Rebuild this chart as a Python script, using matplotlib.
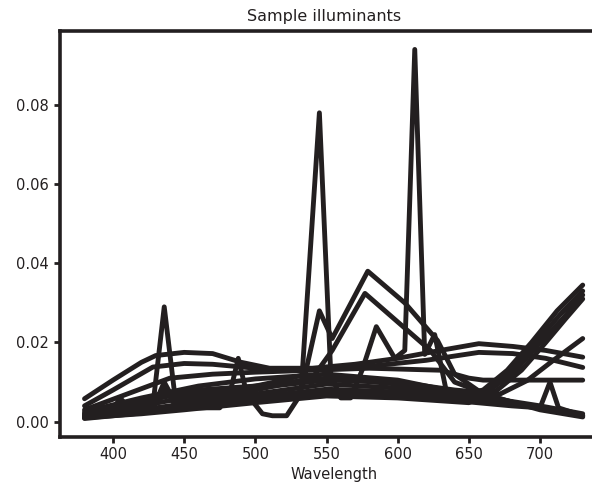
import matplotlib
matplotlib.use('Agg')
import matplotlib.pyplot as plt

plt.rcParams['font.family'] = ['DejaVu Sans']

# spectra (wavelength in nm, relative power)
tri_wl = [380, 395, 405, 412, 428, 436, 444, 450, 475, 482, 488, 494, 505, 512, 522, 532,
          545, 553, 560, 567, 575, 585, 598, 605, 612, 619, 626, 634, 650, 680, 700, 707, 713, 730]
tri_val = [0.0015, 0.002, 0.005, 0.002, 0.004, 0.029, 0.005, 0.0035, 0.0035, 0.007, 0.016, 0.007,
           0.002, 0.0015, 0.0015, 0.007, 0.078, 0.012, 0.006, 0.006, 0.013, 0.024, 0.016, 0.018,
           0.094, 0.017, 0.022, 0.008, 0.005, 0.004, 0.0035, 0.010, 0.0035, 0.0015]

hal1_wl = [380, 400, 405, 410, 430, 436, 442, 480, 500, 520, 535, 545, 554, 579, 605, 628, 640, 660, 690, 730]
hal1_val = [0.002, 0.003, 0.006, 0.004, 0.005, 0.010, 0.006, 0.008, 0.009, 0.0105, 0.012, 0.028,
            0.021, 0.038, 0.030, 0.0205, 0.012, 0.007, 0.004, 0.0015]

hal2_wl = [380, 400, 405, 410, 430, 436, 442, 480, 500, 520, 540, 554, 577, 623, 640, 670, 700, 730]
hal2_val = [0.0015, 0.0025, 0.005, 0.003, 0.0045, 0.009, 0.005, 0.007, 0.008, 0.0095, 0.011, 0.018,
            0.0324, 0.018, 0.010, 0.006, 0.003, 0.0012]

day1_wl = [380, 400, 420, 430, 450, 470, 490, 510, 540, 570, 600, 630, 657, 681, 704, 730]
day1_val = [0.0058, 0.0105, 0.015, 0.0167, 0.0175, 0.0172, 0.015, 0.0135, 0.0135, 0.0145, 0.016,
            0.018, 0.0197, 0.019, 0.018, 0.0163]

day2_wl = [380, 400, 428, 450, 470, 500, 540, 580, 620, 657, 681, 704, 730]
day2_val = [0.004, 0.008, 0.0138, 0.0147, 0.0145, 0.0135, 0.0133, 0.014, 0.0155, 0.0175, 0.0172, 0.016, 0.0137]

day3_wl = [380, 410, 440, 470, 500, 540, 580, 630, 650, 660, 730]
day3_val = [0.003, 0.007, 0.011, 0.012, 0.0125, 0.013, 0.0135, 0.013, 0.011, 0.0105, 0.0105]

mid_wl = [380, 420, 450, 500, 550, 600, 640, 672, 691, 709, 730]
mid_val = [0.0015, 0.004, 0.006, 0.0085, 0.0105, 0.010, 0.008, 0.007, 0.0104, 0.0154, 0.021]

inc1_wl = [380, 420, 450, 500, 550, 600, 640, 660, 677, 694, 712, 730]
inc1_val = [0.001, 0.003, 0.0045, 0.007, 0.0095, 0.0085, 0.0065, 0.008, 0.013, 0.020, 0.028, 0.0345]
inc2_wl = [380, 420, 450, 500, 550, 600, 640, 660, 680, 697, 714, 730]
inc2_val = [0.0012, 0.0028, 0.004, 0.0062, 0.0082, 0.0075, 0.006, 0.0075, 0.013, 0.020, 0.027, 0.033]
inc3_wl = [380, 420, 450, 500, 550, 600, 645, 665, 683, 700, 716, 730]
inc3_val = [0.0008, 0.0022, 0.0035, 0.0052, 0.0072, 0.0066, 0.0055, 0.008, 0.013, 0.020, 0.026, 0.032]
inc4_wl = [380, 420, 450, 500, 550, 600, 650, 670, 687, 704, 718, 730]
inc4_val = [0.001, 0.002, 0.003, 0.0048, 0.0065, 0.006, 0.0048, 0.008, 0.013, 0.020, 0.026, 0.031]

low1_wl = [380, 420, 460, 500, 550, 600, 650, 700, 730]
low1_val = [0.002, 0.005, 0.008, 0.009, 0.011, 0.0095, 0.006, 0.0035, 0.0015]
low2_wl = [380, 420, 460, 500, 550, 600, 650, 700, 730]
low2_val = [0.0025, 0.006, 0.009, 0.0108, 0.012, 0.0105, 0.0068, 0.004, 0.002]

series = [
    (tri_wl, tri_val), (hal1_wl, hal1_val), (hal2_wl, hal2_val),
    (day1_wl, day1_val), (day2_wl, day2_val), (day3_wl, day3_val),
    (mid_wl, mid_val),
    (inc1_wl, inc1_val), (inc2_wl, inc2_val), (inc3_wl, inc3_val), (inc4_wl, inc4_val),
    (low1_wl, low1_val), (low2_wl, low2_val),
]

ink = '#231f20'

fig = plt.figure(figsize=(5.92, 4.87), dpi=100)
ax = fig.add_axes([0.1007, 0.1027, 0.9257, 0.8337])

for wl, val in series:
    ax.plot(wl, val, color=ink, lw=3.5, solid_joinstyle='round', solid_capstyle='round')

ax.set_xticks([400, 450, 500, 550, 600, 650, 700])
ax.set_yticks([0.0, 0.02, 0.04, 0.06, 0.08])
ax.yaxis.set_major_formatter(matplotlib.ticker.FormatStrFormatter('%.2f'))

for s in ax.spines.values():
    s.set_linewidth(2.6)
    s.set_color(ink)
ax.tick_params(length=4, width=2, color=ink, labelsize=10.5, labelcolor=ink)

# title sits a little left of the axes centre in the reference
ax.set_title('Sample illuminants', fontsize=11.5, color=ink, pad=7, x=0.482)
ax.set_xlabel('Wavelength', fontsize=10.5, color=ink, labelpad=3)

fig.savefig('out.png', dpi=100)
